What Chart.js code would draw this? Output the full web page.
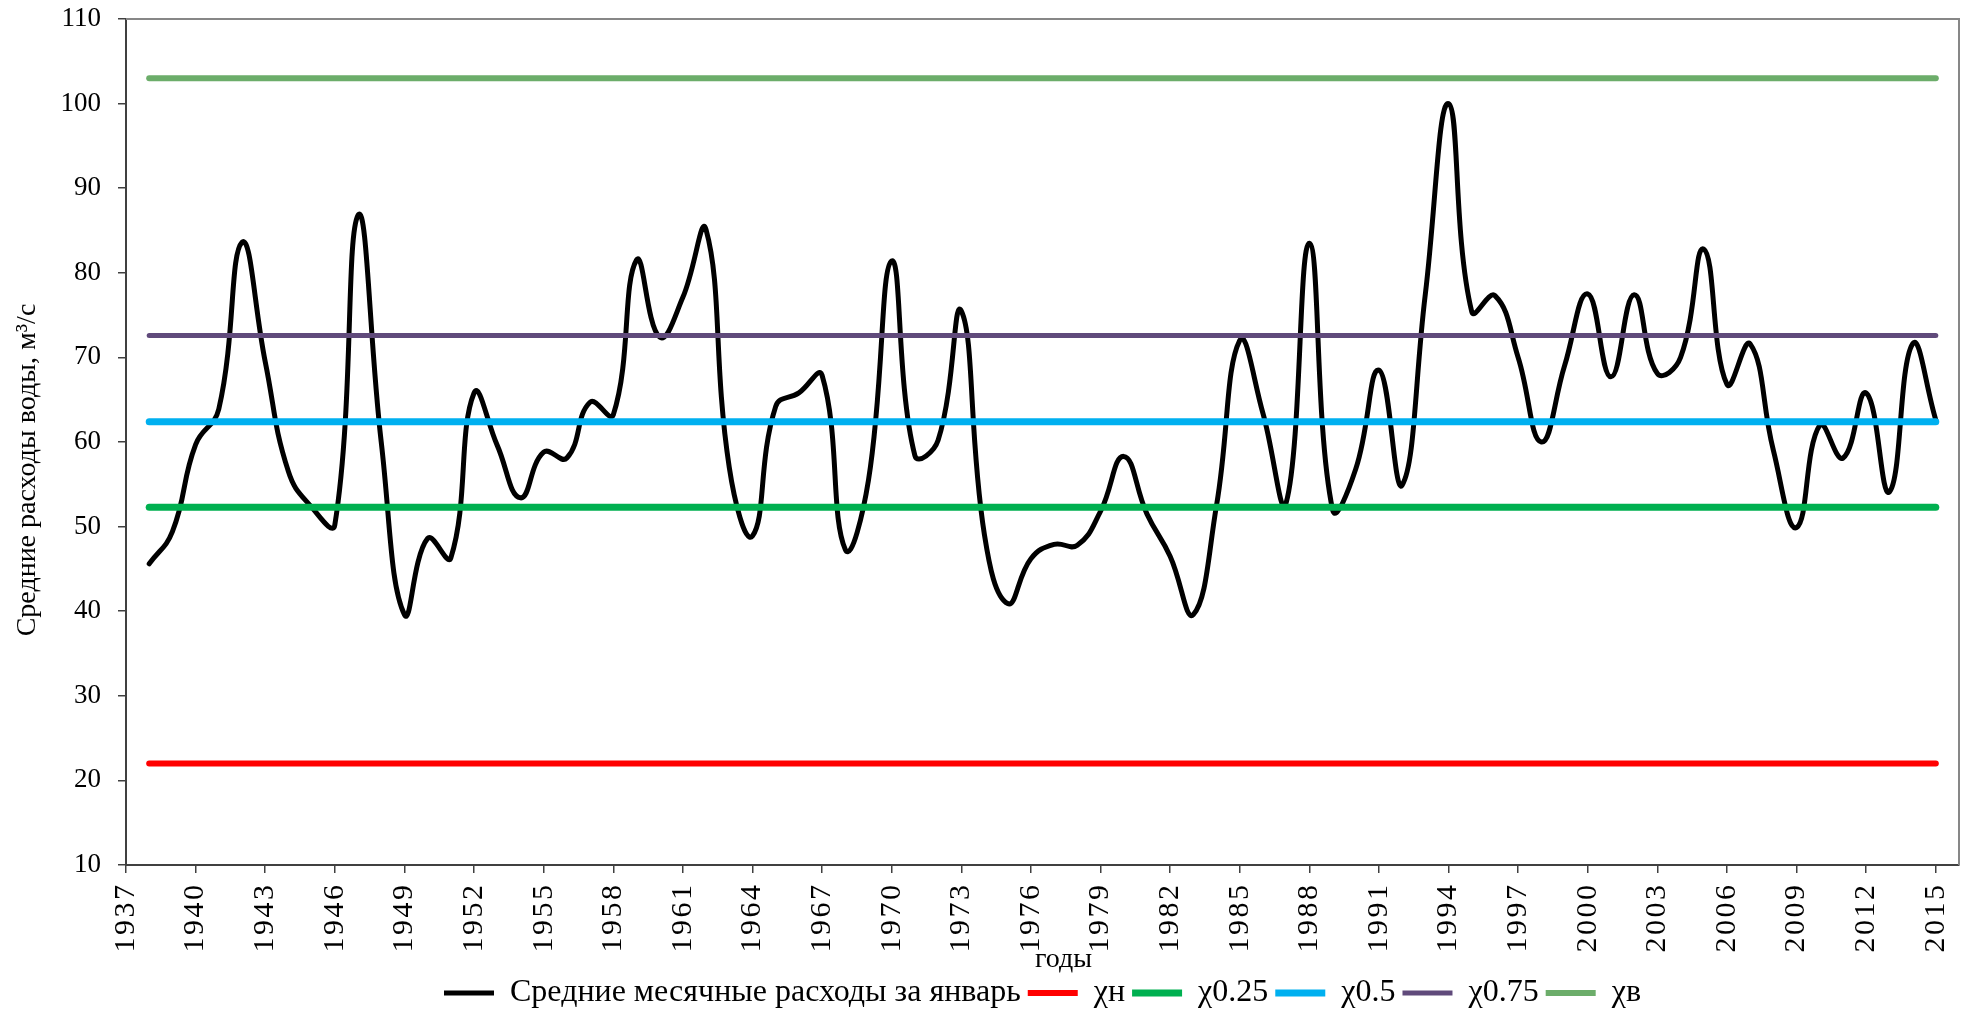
<!DOCTYPE html>
<html>
<head>
<meta charset="utf-8">
<script src="https://cdn.jsdelivr.net/npm/chart.js@4/dist/chart.umd.min.js"></script>
<style>
  html, body { margin: 0; padding: 0; background: #fff; }
</style>
</head>
<body>
<canvas id="chart" width="1966" height="1011"></canvas>
<script>
// годы наблюдений
const years = [];
for (let y = 1938; y <= 2015; y++) years.push(y);

// подписи оси X
const xTickYears = [];
for (let y = 1937; y <= 2015; y += 3) xTickYears.push(y);

// средние месячные расходы за январь, м3/с
const flow = [
  45.6, 49.4, 59.7, 63.9, 83.6, 69.5, 56.5, 52.3, 50.2, 86.8,
  60.0, 39.6, 48.6, 46.3, 65.8, 59.6, 53.4, 58.8, 58.1, 64.7,
  63.2, 81.5, 72.4, 77.1, 85.1, 57.0, 48.9, 64.2, 65.8, 67.9,
  47.3, 55.5, 81.4, 58.4, 60.2, 75.5, 49.0, 40.9, 46.2, 47.9,
  47.8, 51.8, 58.3, 51.5, 46.5, 39.6, 52.5, 72.0, 63.4, 52.8,
  83.5, 52.0, 56.8, 68.5, 54.9, 77.5, 100.0, 75.4, 77.3, 70.0,
  60.0, 69.0, 77.5, 67.7, 77.4, 68.1, 70.0, 82.8, 66.8, 71.6,
  59.0, 49.9, 62.0, 58.1, 65.8, 54.1, 71.6, 62.6
];

// квантили
const levelNames = ['χн', 'χ0.25', 'χ0.5', 'χ0.75', 'χв'];
const levelValues = [22.0, 52.3, 62.4, 72.6, 103.0];
const levelColors = ['#ff0000', '#00b050', '#00b0f0', '#604a7b', '#6cad6a'];
const levelWidths = [6, 7, 7, 5, 6];

const datasets = [{
  label: 'Средние месячные расходы за январь',
  data: years.map((y, i) => ({x: y, y: flow[i]})),
  borderColor: '#000000',
  backgroundColor: '#000000',
  borderWidth: 5,
  tension: 0.45,
  pointRadius: 0,
  borderCapStyle: 'round',
  order: 10
}];
levelNames.forEach((name, i) => {
  datasets.push({
    label: name,
    data: [{x: years[0], y: levelValues[i]}, {x: years[years.length - 1], y: levelValues[i]}],
    borderColor: levelColors[i],
    backgroundColor: levelColors[i],
    borderWidth: levelWidths[i],
    pointRadius: 0,
    borderCapStyle: 'round',
    order: 5 - i
  });
});

// верхняя и правая рамка области построения
const frame = {
  id: 'frame',
  beforeDatasetsDraw(chart) {
    const {ctx, chartArea: a} = chart;
    ctx.save();
    ctx.strokeStyle = '#878787';
    ctx.lineWidth = 2;
    ctx.beginPath();
    ctx.moveTo(a.left, a.top);
    ctx.lineTo(a.right, a.top);
    ctx.lineTo(a.right, a.bottom);
    ctx.stroke();
    ctx.restore();
  }
};

Chart.defaults.font.family = "'Liberation Serif', 'Times New Roman', serif";
Chart.defaults.color = '#000';

new Chart(document.getElementById('chart').getContext('2d'), {
  type: 'line',
  data: { datasets },
  options: {
    responsive: false,
    animation: false,
    devicePixelRatio: 1,
    layout: { padding: { top: 19, right: 7, bottom: -8, left: 0 } },
    plugins: {
      tooltip: { enabled: false },
      legend: {
        position: 'bottom',
        fullSize: false,
        labels: {
          font: { size: 32 },
          usePointStyle: true,
          pointStyle: 'line',
          pointStyleWidth: 50,
          padding: 7,
          sort: (a, b) => a.datasetIndex - b.datasetIndex
        }
      }
    },
    scales: {
      x: {
        type: 'linear',
        min: 1937,
        max: 2016,
        afterBuildTicks: (scale) => {
          scale.ticks = xTickYears.map(v => ({value: v}));
        },
        afterFit: (scale) => {
          scale.height = 105;
          scale.paddingLeft = 0;
          scale.paddingRight = 0;
        },
        ticks: {
          autoSkip: false,
          minRotation: 90,
          maxRotation: 90,
          padding: 12,
          font: { size: 30 },
          callback: (v) => String(v).split('').join('\u200A')
        },
        grid: { drawOnChartArea: false, tickLength: 8, tickColor: '#404040', lineWidth: 1.5 },
        border: { display: true, color: '#404040', width: 2 },
        title: {
          display: true,
          text: '      годы',
          font: { size: 28 },
          padding: { top: 0, bottom: -6 }
        }
      },
      y: {
        min: 10,
        max: 110,
        afterFit: (scale) => {
          scale.width = 126;
          scale.paddingTop = 0;
          scale.paddingBottom = 0;
        },
        ticks: { stepSize: 10, padding: 17, font: { size: 27 } },
        grid: { drawOnChartArea: false, tickLength: 8, tickColor: '#404040', lineWidth: 1.5 },
        border: { display: true, color: '#404040', width: 2 },
        title: {
          display: true,
          text: 'Средние расходы воды, м³/с        ',
          font: { size: 28 },
          padding: { top: 11, bottom: 0 }
        }
      }
    }
  },
  plugins: [frame]
});
</script>
</body>
</html>
